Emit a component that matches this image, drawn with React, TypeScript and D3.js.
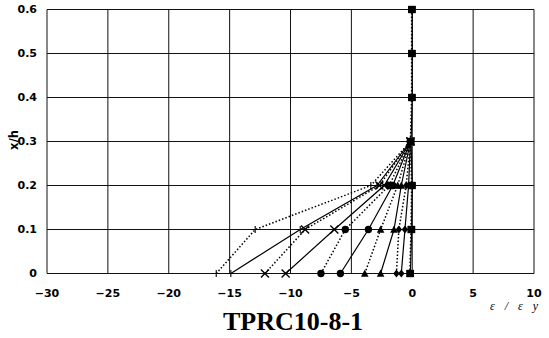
import React from "react";
import * as d3 from "d3";

// Height ratios x/h at which strains were measured
const depthLevels = [0, 0.1, 0.2, 0.3];
const upperLevels = [0.4, 0.5, 0.6];

// Strain ratios ε/εy per loading stage (dotted and solid pairs)
const plusDotted = [-16.1, -12.9, -3.4, -0.15];
const plusSolid = [-14.9, -9.2, -2.9, -0.15];
const crossDotted = [-12.1, -8.8, -2.7, -0.15];
const crossSolid = [-10.4, -6.4, -2.3, -0.15];
const circleDotted = [-7.5, -5.5, -1.9, -0.15];
const circleSolid = [-5.9, -3.6, -1.6, -0.15];
const triangleDotted = [-3.9, -2.6, -1.2, -0.15];
const triangleSolid = [-2.6, -1.5, -0.9, -0.15];
const diamondDotted = [-1.3, -1.1, -0.5, -0.15];
const diamondSolid = [-0.9, -0.6, -0.3, -0.15];
const squareDotted = [-0.2, -0.1, -0.05, -0.15, -0.05, -0.05, -0.05];
const squareSolid = [-0.15, -0.05, 0, -0.1, 0, 0, 0];

const xTicks = [-30, -25, -20, -15, -10, -5, 0, 5, 10];
const yTicks = [0, 0.1, 0.2, 0.3, 0.4, 0.5, 0.6];

type Marker = "plus" | "cross" | "circle" | "triangle" | "diamond" | "square";

const seriesList: { values: number[]; marker: Marker; dotted: boolean }[] = [
  { values: plusDotted, marker: "plus", dotted: true },
  { values: plusSolid, marker: "plus", dotted: false },
  { values: crossDotted, marker: "cross", dotted: true },
  { values: crossSolid, marker: "cross", dotted: false },
  { values: circleDotted, marker: "circle", dotted: true },
  { values: circleSolid, marker: "circle", dotted: false },
  { values: triangleDotted, marker: "triangle", dotted: true },
  { values: triangleSolid, marker: "triangle", dotted: false },
  { values: diamondDotted, marker: "diamond", dotted: true },
  { values: diamondSolid, marker: "diamond", dotted: false },
  { values: squareDotted, marker: "square", dotted: true },
  { values: squareSolid, marker: "square", dotted: false },
];

const allLevels = [...depthLevels, ...upperLevels];

const W = 549;
const H = 338;

const x = d3.scaleLinear().domain([-30, 10]).range([47, 534]);
const y = d3.scaleLinear().domain([0, 0.6]).range([273.5, 9.5]);

const fmt = (v: number) => (v === 0 ? "0" : d3.format("")(v));

function MarkerShape({ kind, cx, cy }: { kind: Marker; cx: number; cy: number }) {
  const s = 3.6;
  switch (kind) {
    case "plus":
      return (
        <path
          d={`M${cx - s},${cy}H${cx + s}M${cx},${cy - s}V${cy + s}`}
          stroke="#000"
          strokeWidth={1.1}
          fill="none"
        />
      );
    case "cross":
      return (
        <path
          d={`M${cx - 4},${cy - 4}L${cx + 4},${cy + 4}M${cx - 4},${cy + 4}L${cx + 4},${cy - 4}`}
          stroke="#000"
          strokeWidth={1.4}
          fill="none"
        />
      );
    case "circle":
      return <circle cx={cx} cy={cy} r={3.7} fill="#000" />;
    case "triangle":
      return (
        <path
          d={`M${cx},${cy - 4}L${cx + 3.8},${cy + 3.2}L${cx - 3.8},${cy + 3.2}Z`}
          fill="#000"
        />
      );
    case "diamond":
      return (
        <path
          d={`M${cx},${cy - 4}L${cx + 3.2},${cy}L${cx},${cy + 4}L${cx - 3.2},${cy}Z`}
          fill="#000"
        />
      );
    case "square":
      return <rect x={cx - 3.6} y={cy - 3.6} width={7.2} height={7.2} fill="#000" />;
  }
}

export default function App() {
  const line = d3
    .line<[number, number]>()
    .x((d) => x(d[0]))
    .y((d) => y(d[1]));

  const tickFont = "'DejaVu Sans', Verdana, sans-serif";

  return (
    <svg
      width={W}
      height={H}
      style={{ position: "absolute", left: 0, top: 0, background: "#fff" }}
    >
      <rect x={0} y={0} width={W} height={H} fill="#fff" />

      {/* grid */}
      {xTicks.map((t) => (
        <line
          key={"gx" + t}
          x1={x(t)}
          x2={x(t)}
          y1={y(0)}
          y2={y(0.6)}
          stroke="#111"
          strokeWidth={1}
        />
      ))}
      {yTicks.map((t) => (
        <line
          key={"gy" + t}
          x1={x(-30)}
          x2={x(10)}
          y1={y(t)}
          y2={y(t)}
          stroke="#111"
          strokeWidth={1}
        />
      ))}

      {/* strain profiles */}
      {seriesList.map((s, i) => {
        const pts: [number, number][] = s.values.map((v, j) => [v, allLevels[j]]);
        return (
          <path
            key={"l" + i}
            d={line(pts) || ""}
            fill="none"
            stroke="#000"
            strokeWidth={s.dotted ? 1.5 : 1.2}
            strokeDasharray={s.dotted ? "1.5 2" : undefined}
          />
        );
      })}
      {seriesList.map((s, i) =>
        s.values.map((v, j) => (
          <MarkerShape key={"m" + i + "-" + j} kind={s.marker} cx={x(v)} cy={y(allLevels[j])} />
        ))
      )}

      {/* tick labels */}
      {yTicks.map((t) => (
        <text
          key={"ty" + t}
          x={37}
          y={y(t)}
          dy="0.35em"
          textAnchor="end"
          fontFamily={tickFont}
          fontWeight="bold"
          fontSize={11}
          fill="#000"
        >
          {fmt(t)}
        </text>
      ))}
      {xTicks.map((t) => (
        <text
          key={"tx" + t}
          x={x(t)}
          y={297}
          textAnchor="middle"
          fontFamily={tickFont}
          fontWeight="bold"
          fontSize={11}
          fill="#000"
        >
          {fmt(t)}
        </text>
      ))}

      {/* axis titles */}
      <text
        transform={`translate(17.5,140) rotate(-90)`}
        textAnchor="middle"
        fontFamily={tickFont}
        fontWeight="bold"
        fontSize={11.5}
        fill="#000"
      >
        x/h
      </text>
      <text
        x={490}
        y={310}
        textLength={48}
        lengthAdjust="spacing"
        fontFamily="'Liberation Serif', 'DejaVu Serif', serif"
        fontStyle="italic"
        fontSize={12}
        fill="#000"
      >
        ε / ε y
      </text>

      {/* specimen name */}
      <text
        x={293}
        y={329.5}
        textAnchor="middle"
        fontFamily="'Liberation Serif', 'Times New Roman', serif"
        fontWeight="bold"
        fontSize={26}
        fill="#000"
      >
        TPRC10-8-1
      </text>
    </svg>
  );
}
